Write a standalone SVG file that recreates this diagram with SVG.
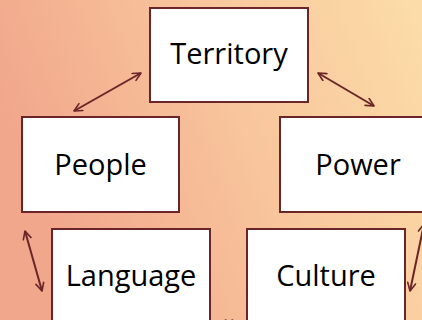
<svg xmlns="http://www.w3.org/2000/svg" width="422" height="320" viewBox="0 0 422 320">
<defs>
<linearGradient id="bg" x1="0" y1="0.3" x2="1" y2="0">
<stop offset="0" stop-color="#F1A78C"/>
<stop offset="0.5" stop-color="#F8C59C"/>
<stop offset="1" stop-color="#FCDDA8"/>
</linearGradient>
<marker id="ah" viewBox="0 0 10 10" refX="9" refY="5" markerWidth="5" markerHeight="5" orient="auto-start-reverse" markerUnits="strokeWidth">
<path d="M1,1 L9,5 L1,9" fill="none" stroke="#6B2528" stroke-width="1.6" stroke-linecap="round" stroke-linejoin="round"/>
</marker>
<style>
.box{fill:#FFFFFF;stroke:#6B2528;stroke-width:2}
.lbl{font-family:"Open Sans","Noto Sans","Liberation Sans",sans-serif;font-size:29px;fill:#000;text-anchor:middle}
.con{stroke:#6B2528;stroke-width:2;fill:none;marker-start:url(#ah);marker-end:url(#ah)}
</style>
</defs>
<rect x="0" y="0" width="422" height="320" fill="url(#bg)"/>
<g id="territory">
<rect class="box" x="150" y="8" width="158" height="94"/>
<text class="lbl" x="229" y="64">Territory</text>
</g>
<g id="people">
<rect class="box" x="22" y="117" width="157" height="95"/>
<text class="lbl" x="100.5" y="175">People</text>
</g>
<g id="power">
<rect class="box" x="280" y="117" width="158" height="95"/>
<text class="lbl" x="358" y="175">Power</text>
</g>
<g id="language">
<rect class="box" x="52" y="229" width="158" height="100"/>
<text class="lbl" x="131" y="286">Language</text>
</g>
<g id="culture">
<rect class="box" x="247" y="229" width="158" height="100"/>
<text class="lbl" x="326" y="286">Culture</text>
</g>
<g id="connectors">
<line class="con" x1="74" y1="111" x2="141" y2="73"/>
<line class="con" x1="318" y1="73" x2="374" y2="106"/>
<line class="con" x1="25" y1="231" x2="42" y2="291"/>
<line class="con" x1="424" y1="224" x2="410" y2="291"/>
<line class="con" x1="218" y1="324" x2="240" y2="324"/>
</g>
</svg>
